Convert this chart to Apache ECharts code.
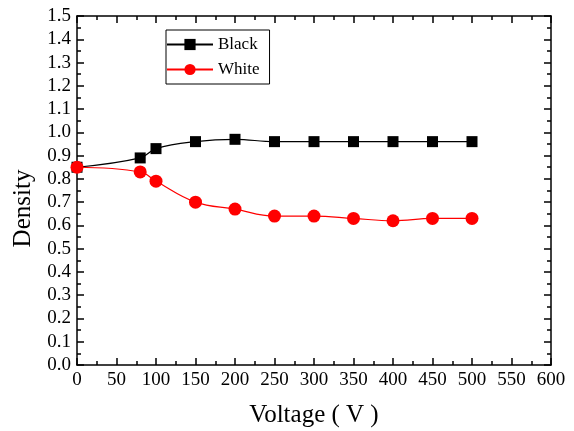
<!DOCTYPE html>
<html>
<head>
<meta charset="utf-8">
<script src="https://cdn.jsdelivr.net/npm/echarts@6/dist/echarts.min.js"></script>
<style>
  html, body { margin: 0; padding: 0; background: #fff; }
  #main { width: 574px; height: 431px; }
</style>
</head>
<body>
<div id="main"></div>
<script>
const voltage = [0, 80, 100, 150, 200, 250, 300, 350, 400, 450, 500];
const blackDensity = [0.85, 0.89, 0.93, 0.96, 0.97, 0.96, 0.96, 0.96, 0.96, 0.96, 0.96];
const whiteDensity = [0.85, 0.83, 0.79, 0.70, 0.67, 0.64, 0.64, 0.63, 0.62, 0.63, 0.63];

const font = 'Liberation Serif';
const pairs = (xs, ys) => xs.map((x, i) => [x, ys[i]]);

const chart = echarts.init(document.getElementById('main'));

const tickCommon = {
  axisLine: { show: true, onZero: false, lineStyle: { color: '#000', width: 1.5 } },
  axisTick: { show: true, inside: true, length: 7, lineStyle: { color: '#000', width: 1.5 } },
  minorTick: { show: true, splitNumber: 2, length: 4, lineStyle: { color: '#000', width: 1.5 } },
  splitLine: { show: false }
};

chart.setOption({
  animation: false,
  backgroundColor: '#fff',
  grid: { left: 77, right: 23, top: 16, bottom: 66, outerBoundsMode: 'none', containLabel: false },
  legend: {
    left: 166, top: 30,
    orient: 'vertical',
    width: 105,
    padding: [6, 10, 6, 0],
    itemGap: 8,
    itemWidth: 46,
    itemHeight: 14,
    borderColor: '#000',
    borderWidth: 1,
    textStyle: { fontFamily: font, fontSize: 17, color: '#000' },
    data: ['Black', 'White']
  },
  xAxis: [
    Object.assign({
      type: 'value', min: 0, max: 600, interval: 50,
      name: 'Voltage ( V )', nameLocation: 'middle', nameGap: 38,
      nameTextStyle: { fontFamily: font, fontSize: 25, color: '#000' },
      axisLabel: { fontFamily: font, fontSize: 19, color: '#000', margin: 6 }
    }, tickCommon),
    Object.assign({
      type: 'value', min: 0, max: 600, interval: 50, position: 'top',
      axisLabel: { show: false }
    }, tickCommon)
  ],
  yAxis: [
    Object.assign({
      type: 'value', min: 0, max: 1.5, interval: 0.1,
      name: 'Density', nameLocation: 'middle', nameGap: 36,
      nameTextStyle: { fontFamily: font, fontSize: 25, color: '#000', padding: [0, 36, 0, 0] },
      axisLabel: {
        fontFamily: font, fontSize: 19, color: '#000', margin: 6,
        formatter: v => v.toFixed(1)
      }
    }, tickCommon),
    Object.assign({
      type: 'value', min: 0, max: 1.5, interval: 0.1, position: 'right',
      axisLabel: { show: false }
    }, tickCommon)
  ],
  series: [
    {
      name: 'Black', type: 'line', smooth: 0.4, clip: false,
      data: pairs(voltage, blackDensity),
      symbol: 'rect', symbolSize: 11,
      itemStyle: { color: '#000' },
      lineStyle: { color: '#000', width: 1.2 },
      z: 3
    },
    {
      name: 'White', type: 'line', smooth: 0.4, clip: false,
      data: pairs(voltage, whiteDensity),
      symbol: 'circle', symbolSize: 13,
      itemStyle: { color: '#ff0000' },
      lineStyle: { color: '#ff0000', width: 1.2 },
      z: 4
    }
  ]
});
</script>
</body>
</html>
